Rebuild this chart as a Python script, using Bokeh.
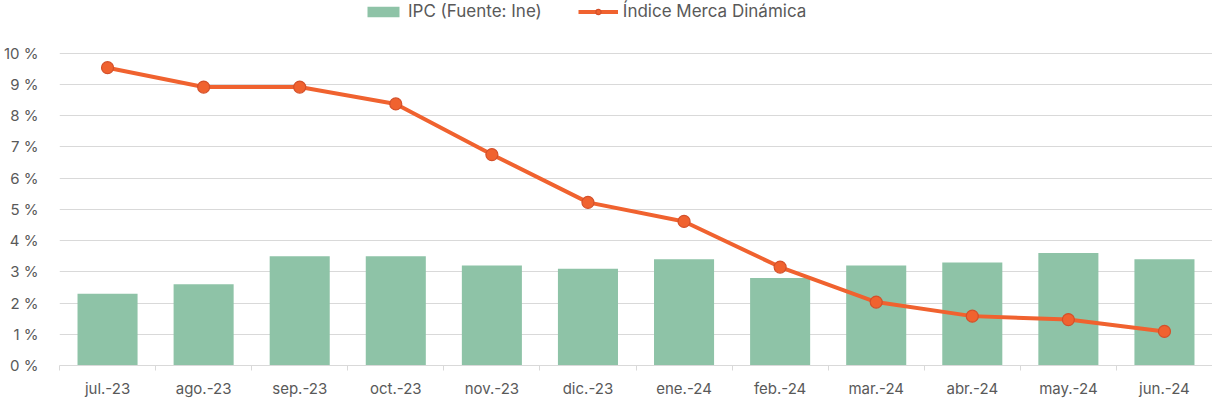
from bokeh.plotting import figure
from bokeh.models import ColumnDataSource, Range1d, FixedTicker, Legend, LegendItem
from bokeh.embed import file_html
from bokeh.resources import INLINE

months = ["jul.-23", "ago.-23", "sep.-23", "oct.-23", "nov.-23", "dic.-23",
          "ene.-24", "feb.-24", "mar.-24", "abr.-24", "may.-24", "jun.-24"]
ipc = [2.3, 2.6, 3.5, 3.5, 3.2, 3.1, 3.4, 2.8, 3.2, 3.3, 3.6, 3.4]
merca = [9.53, 8.91, 8.91, 8.37, 6.75, 5.22, 4.61, 3.15, 2.03, 1.58, 1.47, 1.09]
y_ticks = list(range(0, 11))

FONT = "Inter"
GREY = "#595959"

x = list(range(len(months)))
src = ColumnDataSource(dict(x=x, ipc=ipc, merca=merca))

H = 400
TOP = 0
BOTTOM = 33
FRAME_H = H - BOTTOM - TOP
p = figure(width=1212, height=H, output_backend="svg", toolbar_location=None,
           x_range=Range1d(-0.5, len(months) - 0.5), y_range=Range1d(0, 11.68),
           min_border_left=55, min_border_right=0, min_border_bottom=BOTTOM, min_border_top=TOP)
p.outline_line_color = None
p.background_fill_color = "white"
p.border_fill_color = "white"

bars = p.vbar(x="x", top="ipc", width=0.625, source=src, fill_color="#8EC3A7", line_color=None)
line = p.line(x="x", y="merca", source=src, line_color="#F0622F", line_width=4)
pts = p.scatter(x="x", y="merca", source=src, size=12, fill_color="#F0622F",
                line_color="#D4502A", line_width=1.2)

# x axis
p.xaxis.ticker = FixedTicker(ticks=x, minor_ticks=[i - 0.5 for i in range(len(months) + 1)])
p.xaxis.major_label_overrides = {i: m for i, m in enumerate(months)}
p.xaxis.major_tick_line_color = None
p.xaxis.major_tick_in = 0
p.xaxis.major_tick_out = 0
p.xaxis.minor_tick_line_color = "#d9d9d9"
p.xaxis.minor_tick_in = 0
p.xaxis.minor_tick_out = 5
p.xaxis.axis_line_color = "#d9d9d9"
p.xaxis.major_label_text_font = FONT
p.xaxis.major_label_text_font_size = "15px"
p.xaxis.major_label_text_color = GREY
p.xaxis.major_label_standoff = 8

# y axis
p.yaxis.ticker = FixedTicker(ticks=y_ticks)
p.yaxis.major_label_overrides = {t: f"{t} %" for t in y_ticks}
p.yaxis.axis_line_color = None
p.yaxis.major_tick_line_color = None
p.yaxis.minor_tick_line_color = None
p.yaxis.major_label_text_font = FONT
p.yaxis.major_label_text_font_size = "15px"
p.yaxis.major_label_text_color = GREY
p.yaxis.major_label_standoff = 15

p.xgrid.grid_line_color = None
p.ygrid.grid_line_color = "#d9d9d9"
p.ygrid.ticker = FixedTicker(ticks=y_ticks)

legend = Legend(items=[
    LegendItem(label="IPC (Fuente: Ine)", renderers=[bars]),
    LegendItem(label="Índice Merca Dinámica", renderers=[line, pts]),
], orientation="horizontal", location=(304, FRAME_H - 23))
legend.label_text_font = FONT
legend.label_text_font_size = "17px"
legend.label_text_color = GREY
legend.border_line_color = None
legend.background_fill_alpha = 0
legend.spacing = 36
legend.glyph_width = 40
legend.glyph_height = 13
legend.label_standoff = 5
legend.margin = 0
legend.padding = 3
p.add_layout(legend, "center")

open("out.html", "w").write(file_html(p, INLINE))
